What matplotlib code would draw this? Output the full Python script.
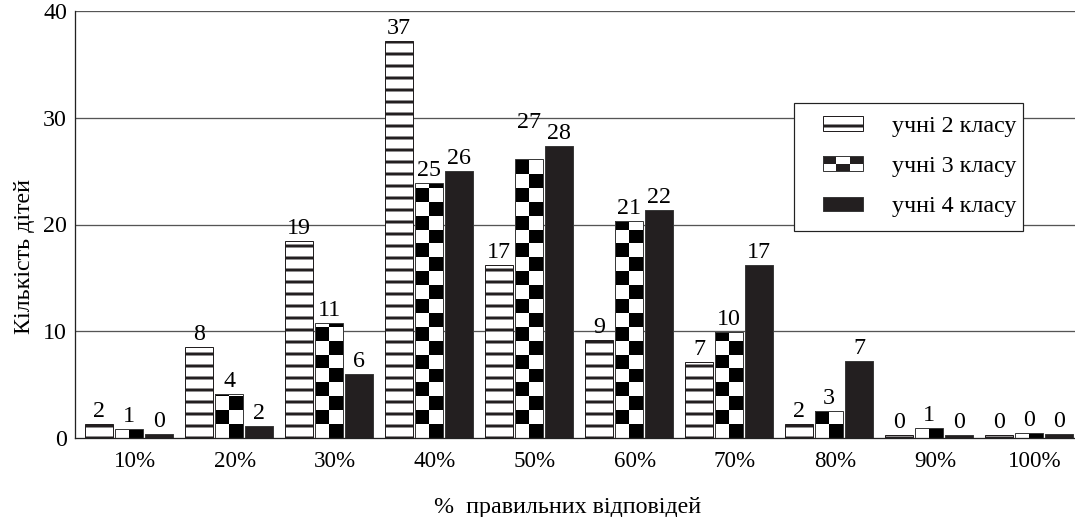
import numpy as np
import matplotlib
matplotlib.use('Agg')
import matplotlib.pyplot as plt
from matplotlib.patches import Patch, Rectangle
from matplotlib.legend_handler import HandlerBase, HandlerPatch

plt.rcParams['font.family'] = ['Liberation Serif', 'DejaVu Serif']
plt.rcParams['hatch.linewidth'] = 3

# дані
categories = ['10%', '20%', '30%', '40%', '50%', '60%', '70%', '80%', '90%', '100%']
# висоти стовпців (як на малюнку)
h2 = [1.3, 8.5, 18.5, 37.2, 16.2, 9.2, 7.1, 1.35, 0.3, 0.3]
h3 = [0.8, 4.1, 10.75, 23.85, 26.1, 20.3, 9.9, 2.5, 0.9, 0.45]
h4 = [0.4, 1.1, 6.0, 25.0, 27.4, 21.4, 16.2, 7.2, 0.3, 0.35]
# підписи над стовпцями
lab2 = [2, 8, 19, 37, 17, 9, 7, 2, 0, 0]
lab3 = [1, 4, 11, 25, 27, 21, 10, 3, 1, 0]
lab4 = [0, 2, 6, 26, 28, 22, 17, 7, 0, 0]
names = ['учні 2 класу', 'учні 3 класу', 'учні 4 класу']

dark = '#231f20'
edge = '#3a3a3a'

fig = plt.figure(figsize=(1075/72, 517/72), dpi=72)
ax = fig.add_axes([75/1075, 79/517, 1000/1075, 427/517])

x = np.arange(len(categories))
w = 0.28
d = 0.30

for y in [10, 20, 30, 40]:
    ax.axhline(y, color='#555555', lw=1.3, zorder=0)

b2 = ax.bar(x - d, h2, w, facecolor='white', edgecolor=dark, hatch='-', lw=1, zorder=2)
b3 = ax.bar(x, h3, w, facecolor='none', edgecolor=edge, lw=1, zorder=3)
b4 = ax.bar(x + d, h4, w, facecolor=dark, edgecolor=edge, lw=1, zorder=2)

# шахова заливка для 3 класу
cell = 1.3
for bar in b3:
    x0 = bar.get_x()
    bw = bar.get_width()
    n = int(np.ceil(bar.get_height() / cell)) + 1
    arr = np.add.outer(np.arange(n), np.arange(2)) % 2
    im = ax.imshow(arr, cmap='gray_r', vmin=0, vmax=1, origin='lower',
                   extent=(x0, x0 + bw, 0, n * cell), interpolation='nearest',
                   aspect='auto', zorder=2)
    im.set_clip_path(bar)

# підписи
for bars, labs in [(b2, lab2), (b3, lab3), (b4, lab4)]:
    for bar, v in zip(bars, labs):
        dy = 2
        if v == 27:
            dy = 26
        ax.annotate(str(v), (bar.get_x() + bar.get_width()/2, bar.get_height()),
                    xytext=(0, dy), textcoords='offset points',
                    ha='center', va='bottom', fontsize=24)

ax.set_xlim(-0.54, 9.46)
ax.set_ylim(0, 40)
ax.set_yticks([0, 10, 20, 30, 40])
ax.set_xticks(x + 0.06)
ax.set_xticklabels(categories)
ax.tick_params(axis='both', length=0)
ax.tick_params(axis='x', pad=13, labelsize=23)
ax.tick_params(axis='y', pad=8, labelsize=24)
for s in ['top', 'right']:
    ax.spines[s].set_visible(False)
ax.spines['left'].set_color('#222222')
ax.spines['bottom'].set_color('#222222')
ax.spines['left'].set_linewidth(1.3)
ax.spines['bottom'].set_linewidth(1.3)

ax.set_ylabel('Кількість дітей', fontsize=24)
ax.yaxis.set_label_coords(-0.040, 0.424)
ax.set_xlabel('%  правильних відповідей', fontsize=24, va='baseline')
ax.xaxis.set_label_coords(0.493, -0.1756)


class CheckerHandler(HandlerBase):
    def create_artists(self, legend, orig_handle, xdescent, ydescent,
                       width, height, fontsize, trans):
        arts = []
        for r in range(2):
            for c in range(3):
                col = dark if (r + c) % 2 == 1 else 'white'
                arts.append(Rectangle((-xdescent + c*width/3, -ydescent + r*height/2),
                                      width/3, height/2, facecolor=col,
                                      edgecolor='none', transform=trans))
        arts.append(Rectangle((-xdescent, -ydescent), width, height, facecolor='none',
                              edgecolor=edge, lw=1, transform=trans))
        return arts


hd1 = Patch(facecolor='white', edgecolor=dark, hatch='-', lw=1)
hd2 = Patch(facecolor='white', edgecolor=edge)
hd3 = Patch(facecolor=dark, edgecolor=edge, lw=1)
xp = 0.65
leg = ax.legend([hd1, hd2, hd3], names, loc='upper left', mode='expand',
                bbox_to_anchor=(0.719, 0.487, 0.229, 0.298), fontsize=24, frameon=True,
                fancybox=False, edgecolor='#222222', framealpha=1,
                handlelength=2.32, handleheight=0.55, handletextpad=1.2,
                labelspacing=0.8, borderpad=0.55, borderaxespad=0,
                handler_map={hd1: HandlerPatch(xpad=xp), hd2: CheckerHandler(xpad=xp),
                             hd3: HandlerPatch(xpad=xp)})
leg.get_frame().set_linewidth(1.2)
leg.set_zorder(5)

fig.savefig('out.png', dpi=72)
